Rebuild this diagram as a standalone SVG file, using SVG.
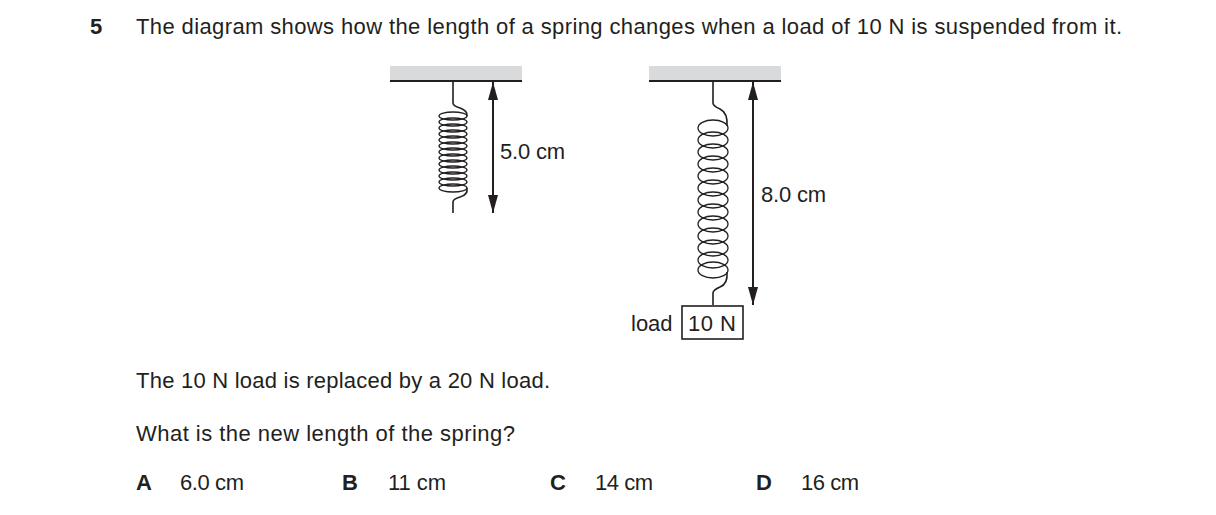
<svg xmlns="http://www.w3.org/2000/svg" width="1216" height="515" viewBox="0 0 1216 515">
<style>
text{font-family:"Liberation Sans",Arial,sans-serif;font-size:22px;fill:#231f20}
.b{font-weight:bold}
.w{fill:none;stroke:#231f20;stroke-width:1.6}
.c{fill:none;stroke:#231f20;stroke-width:1.3}
.g{fill:#d9dadb}
.ln{stroke:#231f20;stroke-width:2}
</style>
<defs>
<marker id="ah" viewBox="0 0 10 10" refX="10" refY="5" markerWidth="18" markerHeight="10" markerUnits="userSpaceOnUse" orient="auto-start-reverse" preserveAspectRatio="none"><path d="M0,0 L10,5 L0,10Z" fill="#231f20"/></marker>
</defs>
<rect width="1216" height="515" fill="#fff"/>
<text x="90" y="34" class="b">5</text>
<text x="136" y="34" textLength="986">The diagram shows how the length of a spring changes when a load of 10 N is suspended from it.</text>
<g id="spring1">
<rect class="g" x="390" y="66" width="132" height="14"/>
<line class="ln" x1="390" y1="81" x2="522" y2="81"/>
<path class="w" d="M453,81 V103 Q453,106 460,108 Q468,111 467,116"/>
<g class="c">
<ellipse cx="453" cy="116" rx="14" ry="4"/><ellipse cx="453" cy="122" rx="14" ry="4"/><ellipse cx="453" cy="128" rx="14" ry="4"/><ellipse cx="453" cy="134" rx="14" ry="4"/><ellipse cx="453" cy="140" rx="14" ry="4"/><ellipse cx="453" cy="146" rx="14" ry="4"/><ellipse cx="453" cy="152" rx="14" ry="4"/><ellipse cx="453" cy="158" rx="14" ry="4"/><ellipse cx="453" cy="164" rx="14" ry="4"/><ellipse cx="453" cy="170" rx="14" ry="4"/><ellipse cx="453" cy="176" rx="14" ry="4"/><ellipse cx="453" cy="182" rx="14" ry="4"/><ellipse cx="453" cy="188" rx="14" ry="4"/>
</g>
<path class="w" d="M467,188 Q468,195 460,197 Q453,199 453,202 V213"/>
</g>
<g id="spring2">
<rect class="g" x="649" y="66" width="132" height="14"/>
<line class="ln" x1="649" y1="81" x2="781" y2="81"/>
<path class="w" d="M713,81 V103 Q713,106 720,109 Q728,113 727,126"/>
<g class="c">
<ellipse cx="713" cy="128" rx="15" ry="8"/><ellipse cx="713" cy="140" rx="15" ry="8"/><ellipse cx="713" cy="152" rx="15" ry="8"/><ellipse cx="713" cy="164" rx="15" ry="8"/><ellipse cx="713" cy="176" rx="15" ry="8"/><ellipse cx="713" cy="188" rx="15" ry="8"/><ellipse cx="713" cy="200" rx="15" ry="8"/><ellipse cx="713" cy="212" rx="15" ry="8"/><ellipse cx="713" cy="224" rx="15" ry="8"/><ellipse cx="713" cy="236" rx="15" ry="8"/><ellipse cx="713" cy="248" rx="15" ry="8"/><ellipse cx="713" cy="260" rx="15" ry="8"/><ellipse cx="713" cy="270" rx="15" ry="8"/>
</g>
<path class="w" d="M727,272 Q728,284 720,287 Q713,290 713,293 V305"/>
</g>
<g id="load">
<rect x="682" y="306" width="61" height="33" fill="#fff" stroke="#231f20" stroke-width="1.6"/>
<text x="688" y="331" textLength="48">10 N</text>
<text x="631" y="331">load</text>
</g>
<g id="connectors">
<line class="ln" x1="493" y1="82" x2="493" y2="213" marker-start="url(#ah)" marker-end="url(#ah)"/>
<line class="ln" x1="753" y1="82" x2="753" y2="305" marker-start="url(#ah)" marker-end="url(#ah)"/>
</g>
<text x="500" y="159" textLength="65">5.0 cm</text>
<text x="761" y="202" textLength="65">8.0 cm</text>
<text x="136" y="388" textLength="414">The 10 N load is replaced by a 20 N load.</text>
<text x="136" y="441" textLength="379">What is the new length of the spring?</text>
<text x="136" y="490" class="b">A</text><text x="180" y="490" textLength="64">6.0 cm</text>
<text x="342" y="490" class="b">B</text><text x="388" y="490" textLength="58">11 cm</text>
<text x="550" y="490" class="b">C</text><text x="595" y="490" textLength="58">14 cm</text>
<text x="756" y="490" class="b">D</text><text x="801" y="490" textLength="58">16 cm</text>
</svg>
